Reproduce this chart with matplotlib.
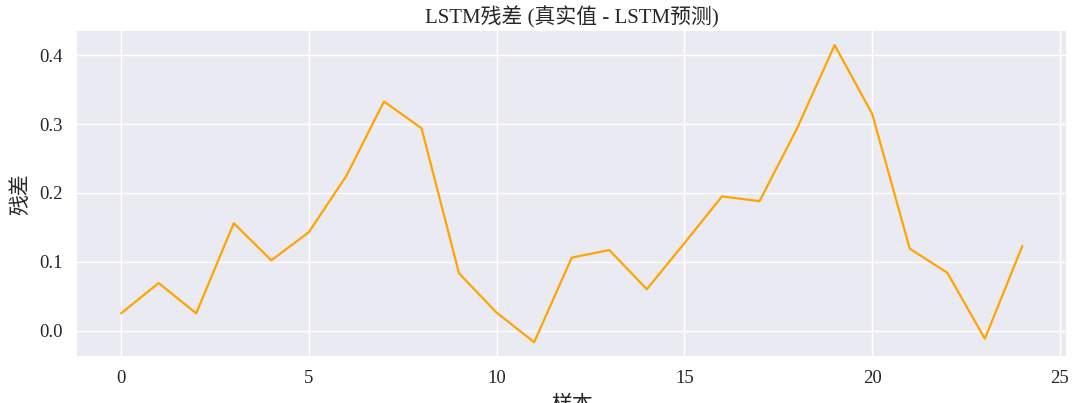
import matplotlib
matplotlib.use("Agg")
import matplotlib.pyplot as plt
import seaborn as sns

samples = list(range(25))
residuals = [0.025, 0.069, 0.025, 0.156, 0.102, 0.143, 0.225, 0.333, 0.294, 0.083,
             0.026, -0.017, 0.106, 0.117, 0.060, 0.127, 0.195, 0.188, 0.294, 0.415,
             0.315, 0.119, 0.084, -0.012, 0.123]

TITLE = "LSTM残差 (真实值 - LSTM预测)"
XLABEL = "样本"
YLABEL = "残差"

sns.set_theme(style="darkgrid")
plt.rcParams['font.family'] = ['Liberation Serif', 'Noto Sans CJK SC', 'DejaVu Sans']
plt.rcParams['axes.unicode_minus'] = False

fig = plt.figure(figsize=(10.8, 4.03), dpi=100)
ax = fig.add_axes([0.0704, 0.114, 0.918, 0.811])

ax.plot(samples, residuals, color='orange', linewidth=1.6)

ax.set_title(TITLE, fontsize=15, pad=5)
ax.set_xlabel(XLABEL, fontsize=15, labelpad=6)
ax.set_ylabel(YLABEL, fontsize=15, labelpad=6)
ax.tick_params(labelsize=13.5)
ax.set_xticks([0, 5, 10, 15, 20, 25])

fig.savefig("out.png", dpi=100)
